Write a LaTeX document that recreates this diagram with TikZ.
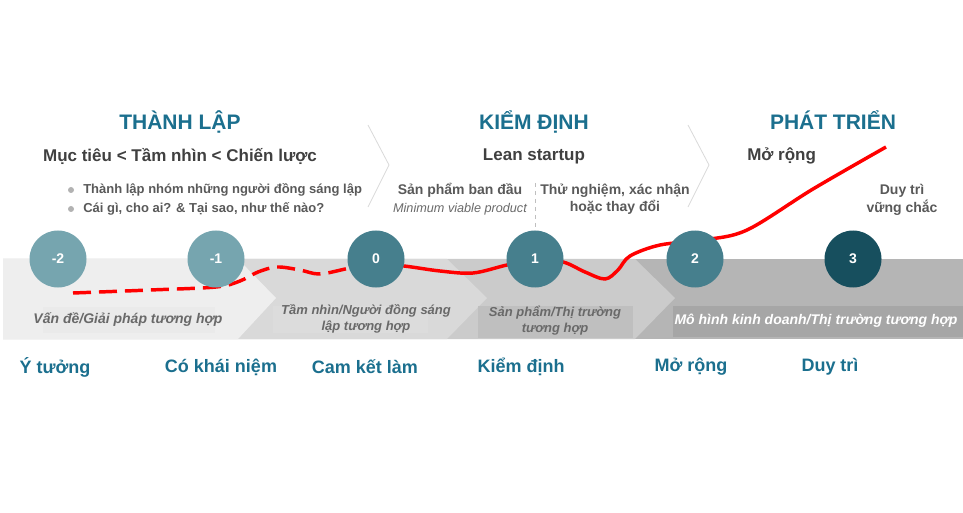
\documentclass[tikz,border=0pt]{standalone}
\usepackage{fontspec}
\setmainfont{Liberation Sans}
\usetikzlibrary{positioning}
\definecolor{headblue}{HTML}{1B6F8E}
\definecolor{darktext}{HTML}{404040}
\definecolor{midtext}{HTML}{595959}
\definecolor{bandtext}{HTML}{696969}
\definecolor{bandA}{HTML}{EEEEEE}
\definecolor{bandB}{HTML}{D9D9D9}
\definecolor{bandC}{HTML}{CBCBCB}
\definecolor{bandD}{HTML}{B5B5B5}
\definecolor{boxA}{HTML}{EAEAEA}
\definecolor{boxB}{HTML}{DCDCDC}
\definecolor{boxC}{HTML}{BFBFBF}
\definecolor{boxD}{HTML}{A6A6A6}
\definecolor{stageA}{HTML}{76A5AF}
\definecolor{stageB}{HTML}{467F8D}
\definecolor{stageC}{HTML}{174F5E}
\definecolor{trendred}{HTML}{FF0000}

\begin{document}
\begin{tikzpicture}[x=0.75pt,y=-0.75pt,
  phase/.style={text=headblue,anchor=base,font=\fontsize{15.75}{18}\selectfont\bfseries},
  subhead/.style={text=darktext,font=\fontsize{12.75}{15}\selectfont\bfseries},
  note/.style={text=midtext,font=\fontsize{10.5}{13}\selectfont\bfseries,align=center},
  bullet/.style={text=midtext,font=\fontsize{9.75}{12}\selectfont\bfseries,anchor=west,inner sep=0pt},
  bandlabel/.style={text=bandtext,font=\fontsize{10.5}{12.5}\selectfont\bfseries\itshape,align=center},
  smalllabel/.style={bandlabel,font=\fontsize{9.75}{12}\selectfont\bfseries\itshape},
  milestone/.style={text=headblue,font=\fontsize{13.5}{16}\selectfont\bfseries},
  stage/.style={circle,minimum size=42.75pt,inner sep=0pt,text=white,font=\fontsize{10.5}{12}\selectfont\bfseries},
  trend/.style={draw=trendred,line width=2.6pt},
  chev/.style={draw=black!15,line width=0.6pt}]
\useasboundingbox (0,0) rectangle (963,513);

\fill[bandD] (3,259) rectangle (963,339);
\fill[bandC] (3,259) -- (635,259) -- (675,298) -- (635,339) -- (3,339) -- cycle;
\fill[bandB] (3,259) -- (447,259) -- (487,298) -- (447,339) -- (3,339) -- cycle;
\fill[bandA] (3,259) -- (238,259) -- (276,298) -- (238,339) -- (3,339) -- cycle;
\fill[boxA] (43,307) rectangle (215,333);
\fill[boxB] (273,306) rectangle (428,333);
\fill[boxC] (478,306) rectangle (633,338);
\fill[boxD] (673,306) rectangle (963,337);

\draw[chev] (368,125) -- (389,165) -- (368,207);
\draw[chev] (688,125) -- (709,165) -- (688,207);
\draw[black!25,dashed,line width=0.5pt] (535,183) -- (535,247);

\draw[trend,dash pattern=on 13.5pt off 6pt] plot[smooth,tension=0.55] coordinates
  {(73,293) (150,290) (216,287) (240,281) (258,272) (277,267) (300,270) (320,274) (350,268) (376,264)};
\draw[trend] plot[smooth,tension=0.55] coordinates
  {(376,264) (404,266) (440,271) (473,273) (507,265) (535,260) (563,262) (585,272) (605,279)
   (618,270) (630,256) (660,245) (703,240) (747,230) (813,189) (886,147)};

\node[stage,fill=stageA] (sm2) at (58,259) {-2};
\node[stage,fill=stageA] (sm1) at (216,259) {-1};
\node[stage,fill=stageB] (s0) at (376,259) {0};
\node[stage,fill=stageB] (s1) at (535,259) {1};
\node[stage,fill=stageB] (s2) at (695,259) {2};
\node[stage,fill=stageC] (s3) at (853,259) {3};

\node[phase] (found) at (180,130) {THÀNH LẬP};
\node[phase] (valid) at (534,130) {KIỂM ĐỊNH};
\node[phase] (grow) at (833,130) {PHÁT TRIỂN};
\node[subhead] (goal) at (180,156) {Mục tiêu < Tầm nhìn < Chiến lược};
\node[subhead] (lean) at (534,156) {Lean startup};
\node[subhead,anchor=west,inner sep=0pt] (scale) at (747,156) {Mở rộng};

\fill[black!30] (71,190) circle (3);
\fill[black!30] (71,209) circle (3);
\node[bullet] (team) at (83,190) {Thành lập nhóm những người đồng sáng lập};
\node[bullet] (why) at (83,209) {Cái gì, cho ai? \& Tại sao, như thế nào?};
\node[note] (mvp) at (460,190) {Sản phẩm ban đầu};
\node[text=bandtext,font=\fontsize{9.5}{12}\selectfont\itshape] (mvpen) at (460,209) {Minimum viable product};
\node[note] (test) at (615,199) {Thử nghiệm, xác nhận\\hoặc thay đổi};
\node[note] (keep) at (902,200) {Duy trì\\vững chắc};

\node[bandlabel] (fitA) at (128,320) {Vấn đề/Giải pháp tương hợp};
\node[smalllabel] (fitB) at (366,319) {Tầm nhìn/Người đồng sáng\\lập tương hợp};
\node[smalllabel] (fitC) at (555,321) {Sản phẩm/Thị trường\\tương hợp};
\node[bandlabel,text=white] (fitD) at (816,321) {Mô hình kinh doanh/Thị trường tương hợp};

\node[milestone] (idea) at (55,367) {Ý tưởng};
\node[milestone] (concept) at (221,367) {Có khái niệm};
\node[milestone] (commit) at (365,367) {Cam kết làm};
\node[milestone] (check) at (521,367) {Kiểm định};
\node[milestone] (expand) at (691,367) {Mở rộng};
\node[milestone] (sustain) at (830,367) {Duy trì};
\end{tikzpicture}
\end{document}
